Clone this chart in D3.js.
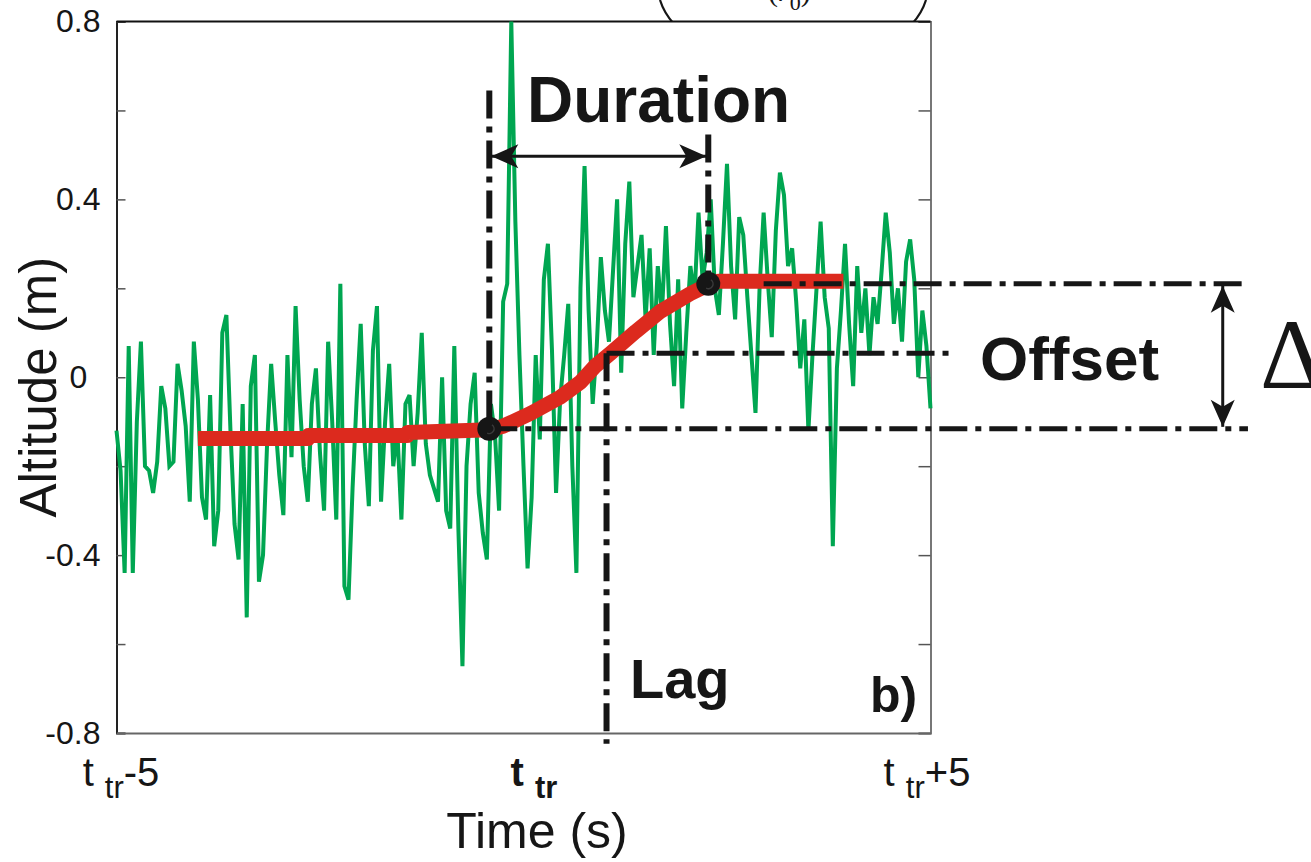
<!DOCTYPE html>
<html>
<head>
<meta charset="utf-8">
<script src="https://cdn.jsdelivr.net/npm/d3@7/dist/d3.min.js"></script>
<style>
  body { margin: 0; background: #fff; }
  svg { display: block; }
</style>
</head>
<body>
<svg id="chart" width="1311" height="862"></svg>
<script>
// ---- data ----------------------------------------------------------------
// altitude record sampled every 0.05 s around the trigger time
const sampleStart = -5;
const sampleStep = 0.05;
const altitude = [
  -0.12, -0.21, -0.44, 0.07, -0.44, -0.10, 0.08, -0.20, -0.21, -0.26,
  -0.19, -0.02, -0.07, -0.20, -0.19, 0.03, -0.03, -0.11, -0.28, 0.08,
  -0.05, -0.27, -0.32, -0.04, -0.38, -0.30, 0.10, 0.14, -0.12, -0.33,
  -0.41, -0.06, -0.54, -0.02, 0.05, -0.46, -0.40, -0.15, 0.03, -0.10,
  -0.22, -0.31, 0.05, -0.18, 0.16, -0.05, -0.20, -0.28, -0.06, 0.02,
  -0.17, -0.30, 0.08, -0.10, -0.32, 0.21, -0.47, -0.50, -0.25, -0.05,
  0.12, -0.15, -0.29, 0.06, 0.16, -0.28, -0.10, 0.03, -0.20, -0.12,
  -0.32, -0.06, -0.04, -0.20, -0.08, 0.10, -0.15, -0.22, -0.25, -0.28,
  0.00, -0.30, -0.34, 0.07, -0.34, -0.65, -0.20, -0.06, 0.01, -0.26,
  -0.35, -0.41, -0.06, -0.13, -0.30, 0.17, 0.21, 0.80, 0.35, 0.05,
  -0.20, -0.43, -0.27, 0.05, -0.14, 0.22, 0.30, 0.06, -0.26, -0.05,
  0.05, 0.165, -0.20, -0.44, 0.20, 0.475, 0.15, -0.06, 0.07, 0.27,
  0.15, 0.08, 0.24, 0.40, 0.01, 0.30, 0.44, 0.18, 0.25, 0.32,
  0.13, 0.29, 0.05, 0.25, 0.14, 0.34, 0.12, -0.02, 0.22, -0.07,
  0.10, 0.25, 0.18, 0.37, 0.22, 0.28, 0.40, 0.20, 0.14, 0.30,
  0.48, 0.25, 0.13, 0.36, 0.32, 0.18, 0.05, -0.08, 0.20, 0.37,
  0.22, 0.09, 0.33, 0.46, 0.41, 0.25, 0.29, 0.17, 0.02, 0.13,
  -0.12, 0.05, 0.20, 0.35, 0.18, 0.11, -0.38, 0.02, 0.15, 0.30,
  0.12, -0.02, 0.25, 0.10, 0.20, 0.05, 0.18, 0.12, 0.24, 0.37,
  0.28, 0.12, 0.20, 0.08, 0.26, 0.31, 0.22, 0.00, 0.15, 0.07,
  -0.07
];

// fitted transition curve
const fitTime = [-4.00, -2.65, -2.64, -1.43, -1.42, -0.42, -0.25, 0.09, 0.45, 0.70, 0.88, 1.07, 1.38, 1.68, 2.05, 2.27, 2.40, 3.93];
const fitAlt  = [-0.138, -0.138, -0.131, -0.131, -0.124, -0.118, -0.110, -0.081, -0.045, -0.011, 0.025, 0.054, 0.103, 0.148, 0.188, 0.208, 0.216, 0.216];

// key instants and levels of the transition
const transitionStart = [-0.42, -0.116];
const transitionEnd = [2.27, 0.210];
const lagTime = 1.02;
const offsetLevel = 0.054;

// axis ticks
const yTicks = [-0.8, -0.6, -0.4, -0.2, 0, 0.2, 0.4, 0.6, 0.8];
const yTickLabels = ["-0.8", "", "-0.4", "", "0", "", "0.4", "", "0.8"];
const xTicks = [-5, 0, 5];
const xTickSuffix = ["-5", "", "+5"];

// ---- layout --------------------------------------------------------------
const svg = d3.select("#chart");
const ink = "#161616";
const plot = { left: 116.5, right: 930.5, top: 21.5, bottom: 733 };

const x = d3.scaleLinear().domain([-5, 5]).range([plot.left, plot.right]);
const y = d3.scaleLinear().domain([-0.8, 0.8]).range([plot.bottom, plot.top]);

// lower end of the formula printed above the panel
const formula = svg.append("g").attr("fill", "none").attr("stroke", ink).attr("stroke-width", 2.2);
formula.append("path").attr("d", "M660,0 Q664,13 674,24");
formula.append("path").attr("d", "M926,0 Q922,13 912,24");
const frag = svg.append("text").attr("x", 768).attr("y", 1)
  .attr("font-family", "Liberation Serif, serif").attr("font-size", 30).attr("fill", ink);
frag.append("tspan").text("(");
frag.append("tspan").attr("font-style", "italic").text("r");
frag.append("tspan").attr("font-size", 22).attr("dy", 9).text("0");
frag.append("tspan").attr("dy", -9).text(")");

// plot background
svg.append("rect")
  .attr("x", plot.left).attr("y", plot.top)
  .attr("width", plot.right - plot.left).attr("height", plot.bottom - plot.top)
  .attr("fill", "#fff");

// ---- axes ----------------------------------------------------------------
const yAxis = svg.append("g")
  .attr("transform", `translate(${plot.left},0)`)
  .call(d3.axisLeft(y).tickValues(yTicks).tickSize(-9).tickPadding(16)
    .tickFormat((d, i) => yTickLabels[i]));
yAxis.select(".domain").attr("stroke", "#222").attr("stroke-width", 2);
yAxis.selectAll(".tick line").attr("stroke", "#555").attr("stroke-width", 1.5);
yAxis.selectAll(".tick text")
  .attr("font-family", "Liberation Sans, Arial, sans-serif")
  .attr("font-size", 32).attr("fill", ink)
  .attr("x", d => d === 0 ? -38 : -16)
  .attr("text-anchor", d => d === 0 ? "middle" : "end");

const yAxisRight = svg.append("g")
  .attr("transform", `translate(${plot.right},0)`)
  .call(d3.axisRight(y).tickValues(yTicks).tickSize(-12).tickFormat(""));
yAxisRight.select(".domain").attr("stroke", "#777").attr("stroke-width", 2);
yAxisRight.selectAll(".tick line").attr("stroke", "#555").attr("stroke-width", 1.5);

svg.append("line")
  .attr("x1", plot.left).attr("x2", plot.right)
  .attr("y1", plot.top).attr("y2", plot.top)
  .attr("stroke", "#111").attr("stroke-width", 2);

const xAxis = svg.append("g")
  .attr("transform", `translate(0,${plot.bottom})`)
  .call(d3.axisBottom(x).tickValues(xTicks).tickSize(0).tickFormat(""));
xAxis.select(".domain").attr("stroke", "#666").attr("stroke-width", 2);
xAxis.selectAll(".tick").each(function (d, i) {
  const bold = d === 0;
  const t = d3.select(this).append("text")
    .attr("y", 53).attr("x", bold ? 10 : (i === 0 ? 4 : -4)).attr("text-anchor", "middle")
    .attr("font-family", "Liberation Sans, Arial, sans-serif")
    .attr("font-size", 40).attr("fill", ink)
    .attr("font-weight", bold ? "bold" : "normal");
  t.append("tspan").text("t ");
  t.append("tspan").attr("font-size", 31).attr("dy", 12).text("tr");
  if (xTickSuffix[i]) t.append("tspan").attr("dy", -12).text(xTickSuffix[i]);
});

svg.append("text")
  .attr("x", 537).attr("y", 848).attr("text-anchor", "middle")
  .attr("font-family", "Liberation Sans, Arial, sans-serif")
  .attr("font-size", 50).attr("fill", ink)
  .text("Time (s)");

svg.append("text")
  .attr("transform", `translate(56,${(plot.top + plot.bottom) / 2 + 10}) rotate(-90)`)
  .attr("text-anchor", "middle")
  .attr("font-family", "Liberation Sans, Arial, sans-serif")
  .attr("font-size", 51).attr("fill", ink)
  .text("Altitude (m)");

// ---- series --------------------------------------------------------------
const line = d3.line().x(d => x(d[0])).y(d => y(d[1]));

const record = altitude.map((v, i) => [sampleStart + i * sampleStep, v]);
svg.append("path")
  .attr("d", line(record))
  .attr("fill", "none").attr("stroke", "#00a651")
  .attr("stroke-width", 4).attr("stroke-linejoin", "miter");

const fit = fitTime.map((t, i) => [t, fitAlt[i]]);
svg.append("path")
  .attr("d", line(fit))
  .attr("fill", "none").attr("stroke", "#dc2a1e")
  .attr("stroke-width", 15).attr("stroke-linejoin", "round");

// ---- annotations ---------------------------------------------------------
const dashDot = "28,8,6,8";
function guide(t1, a1, t2, a2, w) {
  svg.append("line")
    .attr("x1", x(t1)).attr("y1", y(a1)).attr("x2", x(t2)).attr("y2", y(a2))
    .attr("stroke", ink).attr("stroke-width", w)
    .attr("stroke-dasharray", dashDot);
}

// vertical markers
guide(transitionStart[0], 0.645, transitionStart[0], transitionStart[1], 6);
guide(transitionEnd[0], 0.546, transitionEnd[0], transitionEnd[1], 6);
guide(lagTime, offsetLevel, lagTime, -0.824, 6);
// horizontal levels
guide(2.95, transitionEnd[1], 8.9, transitionEnd[1], 5);
guide(transitionStart[0], transitionStart[1], 8.9, transitionStart[1], 5);
guide(lagTime, offsetLevel, 5.31, offsetLevel, 5);

function arrowHead(px, py, angle) {
  const L = 27, W = 12, N = 7;
  svg.append("path")
    .attr("d", `M0,0 L${-L},${-W} L${-L + N},0 L${-L},${W} Z`)
    .attr("transform", `translate(${px},${py}) rotate(${angle})`)
    .attr("fill", ink);
}
function doubleArrow(x1, y1, x2, y2) {
  svg.append("line")
    .attr("x1", x1).attr("y1", y1).attr("x2", x2).attr("y2", y2)
    .attr("stroke", ink).attr("stroke-width", 3);
  const ang = Math.atan2(y2 - y1, x2 - x1) * 180 / Math.PI;
  arrowHead(x2, y2, ang);
  arrowHead(x1, y1, ang + 180);
}

// duration arrow
doubleArrow(x(transitionStart[0]) + 2, y(0.497), x(transitionEnd[0]) - 2, y(0.497));
// amplitude arrow
doubleArrow(x(8.59), y(transitionEnd[1]) + 2, x(8.59), y(transitionStart[1]) - 2);

// transition end points
[transitionStart, transitionEnd].forEach(p => {
  svg.append("circle")
    .attr("cx", x(p[0])).attr("cy", y(p[1])).attr("r", 12)
    .attr("fill", ink);
  svg.append("path")
    .attr("d", d3.arc()({ innerRadius: 4, outerRadius: 5.5, startAngle: 0.6, endAngle: 3.6 }))
    .attr("transform", `translate(${x(p[0])},${y(p[1])})`)
    .attr("fill", "#3a3a3a");
});

// labels
const bold = (txt, px, py, size) => svg.append("text")
  .attr("x", px).attr("y", py)
  .attr("font-family", "Liberation Sans, Arial, sans-serif")
  .attr("font-weight", "bold").attr("font-size", size).attr("fill", ink)
  .text(txt);
bold("Duration", 527, 122, 64);
bold("Offset", 980, 380, 62);
bold("Lag", 630, 698, 56);
bold("b)", 870, 712, 50);

svg.append("text")
  .attr("x", 1260).attr("y", 388)
  .attr("font-family", "Liberation Serif, serif")
  .attr("font-size", 100).attr("fill", ink)
  .text("Δ");
</script>
</body>
</html>
